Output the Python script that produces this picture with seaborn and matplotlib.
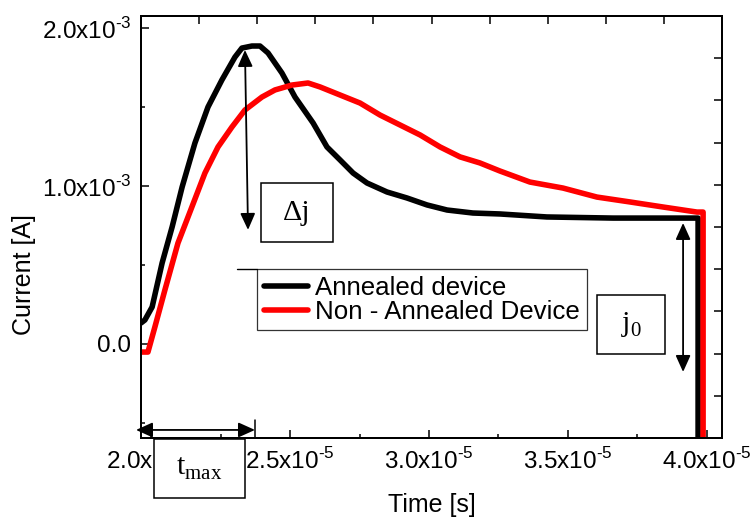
import numpy as np
import pandas as pd
import matplotlib
matplotlib.use("Agg")
import matplotlib.pyplot as plt
import seaborn as sns
from matplotlib.patches import Rectangle
from matplotlib.lines import Line2D

# ---------------- data (time in 1e-5 s, current in 1e-3 A) ----------------
annealed_time = [1.964, 1.978, 2.004, 2.040, 2.076, 2.112, 2.158, 2.205, 2.255, 2.302,
                 2.327, 2.363, 2.392, 2.421, 2.471, 2.518, 2.583, 2.633, 2.680, 2.727,
                 2.777, 2.849, 2.921, 2.993, 3.065, 3.158, 3.255, 3.424, 3.662, 3.903,
                 3.968, 3.968]
annealed_current = [0.133, 0.152, 0.234, 0.513, 0.741, 0.994, 1.272, 1.500, 1.671, 1.816,
                    1.873, 1.886, 1.886, 1.842, 1.715, 1.563, 1.399, 1.247, 1.165, 1.082,
                    1.019, 0.962, 0.924, 0.880, 0.848, 0.829, 0.823, 0.804, 0.797, 0.797,
                    0.797, -0.800]

non_annealed_time = [1.964, 1.989, 2.014, 2.050, 2.097, 2.147, 2.194, 2.241, 2.291, 2.338,
                     2.399, 2.446, 2.507, 2.565, 2.608, 2.680, 2.752, 2.824, 2.896, 2.968,
                     3.040, 3.112, 3.183, 3.255, 3.363, 3.482, 3.604, 3.723, 3.842, 3.964,
                     3.986, 3.986]
non_annealed_current = [-0.051, -0.051, 0.108, 0.342, 0.639, 0.867, 1.082, 1.247, 1.373, 1.481,
                        1.563, 1.608, 1.639, 1.652, 1.627, 1.576, 1.525, 1.449, 1.386, 1.323,
                        1.247, 1.184, 1.146, 1.095, 1.025, 0.987, 0.930, 0.899, 0.867, 0.835,
                        0.835, -0.800]

series_names = ["Annealed device", "Non - Annealed Device"]
series_colors = ["#000000", "#ff0000"]

xticks_major = [2.0e-5, 2.5e-5, 3.0e-5, 3.5e-5, 4.0e-5]
xtick_labels = ["2.0x10$^{\\mathregular{\u20105}}$", "2.5x10$^{\\mathregular{\u20105}}$",
                "3.0x10$^{\\mathregular{\u20105}}$", "3.5x10$^{\\mathregular{\u20105}}$",
                "4.0x10$^{\\mathregular{\u20105}}$"]
xticks_minor = [2.25e-5, 2.75e-5, 3.25e-5, 3.75e-5]
yticks_major = [0.0, 1.0e-3, 2.0e-3]
ytick_labels = ["0.0", "1.0x10$^{\\mathregular{\u20103}}$", "2.0x10$^{\\mathregular{\u20103}}$"]
yticks_minor = [-0.5e-3, 0.5e-3, 1.5e-3]

x_label = "Time [s]"
y_label = "Current [A]"
x_limits = (1.964e-5, 4.054e-5)
y_limits = (-0.595e-3, 2.076e-3)

# ---------------- build table ----------------
df = pd.concat([
    pd.DataFrame({"Time": np.array(annealed_time) * 1e-5,
                  "Current": np.array(annealed_current) * 1e-3,
                  "Device": series_names[0]}),
    pd.DataFrame({"Time": np.array(non_annealed_time) * 1e-5,
                  "Current": np.array(non_annealed_current) * 1e-3,
                  "Device": series_names[1]}),
], ignore_index=True)

# ---------------- style ----------------
sns.set_style("ticks")
plt.rcParams["font.family"] = ["Liberation Sans", "DejaVu Sans"]
plt.rcParams["mathtext.fontset"] = "custom"
plt.rcParams["mathtext.rm"] = "Liberation Sans"
for key in ["text.color", "axes.labelcolor", "xtick.color", "ytick.color", "axes.edgecolor"]:
    plt.rcParams[key] = "black"

W, H = 752, 519
fig = plt.figure(figsize=(W / 100, H / 100), dpi=100)
ax = fig.add_axes([141 / W, 1 - 438 / H, (722 - 141) / W, (438 - 16) / H])

def fx(x):
    return x / W

def fy(y):
    return 1 - y / H

sns.lineplot(data=df, x="Time", y="Current", hue="Device", hue_order=series_names,
             palette=series_colors, estimator=None, sort=False, units="Device",
             lw=4.0, ax=ax, legend=True, zorder=2)

ax.set_xlim(*x_limits)
ax.set_ylim(*y_limits)
ax.set_xticks(xticks_major, xtick_labels)
ax.set_xticks(xticks_minor, minor=True)
ax.set_yticks(yticks_major, ytick_labels)
ax.set_yticks(yticks_minor, minor=True)
ax.tick_params(which="both", direction="in", width=1.1, labelsize=17.5, pad=7,
               colors="black", labelcolor="black")
ax.tick_params(which="major", length=5.5)
ax.tick_params(which="minor", length=3.2)
for s in ax.spines.values():
    s.set_linewidth(1.4)
    s.set_color("black")

ax.set_xlabel(x_label, fontsize=18, color="black")
ax.set_ylabel(y_label, fontsize=18, color="black")
ax.xaxis.set_label_coords(0.5, (438 - 493) / 422)
ax.yaxis.set_label_coords((36 - 141) / 581, (438 - 275) / 422)

# top / right tick-only axes
axt = ax.twiny()
axt.set_xlim(0, 1)
axt.set_xticks(np.linspace(0, 1, 11))
axt.set_xticklabels([])
axt.tick_params(direction="in", length=5.5, width=1.1, colors="black")
axr = ax.twinx()
axr.set_ylim(0, 1)
axr.set_yticks(np.linspace(0, 1, 11))
axr.set_yticklabels([])
axr.tick_params(direction="in", length=5.5, width=1.1, colors="black")
for a in (axt, axr):
    for s in a.spines.values():
        s.set_linewidth(1.4)
        s.set_color("black")

# legend
handles, labels = ax.get_legend_handles_labels()
leg = ax.legend(handles, labels, loc="upper left",
                bbox_to_anchor=(fx(257), fy(269)), bbox_transform=fig.transFigure,
                borderaxespad=0, borderpad=0.26, labelspacing=0.0, handlelength=1.73,
                handletextpad=0.27, fontsize=18.6, frameon=True, fancybox=False)
leg.get_frame().set_edgecolor("black")
leg.get_frame().set_linewidth(0.9)
for t in leg.get_texts():
    t.set_color("black")
for ln in leg.get_lines():
    ln.set_linewidth(4.0)
fig.add_artist(Line2D([fx(237), fx(257)], [fy(268.5), fy(268.5)],
                      transform=fig.transFigure, color="black", lw=1.0))

# annotation boxes
def box(x0, y0, x1, y1, text):
    fig.add_artist(Rectangle((fx(x0), fy(y1)), (x1 - x0) / W, (y1 - y0) / H,
                             transform=fig.transFigure, facecolor="white",
                             edgecolor="black", lw=1.1, zorder=5))
    fig.text(fx((x0 + x1) / 2), fy((y0 + y1) / 2), text, ha="center", va="center",
             family="Liberation Serif", fontsize=21.5, color="black", zorder=6)

box(261, 183, 333, 242, "Δj")
box(597, 295, 665, 354, r"j$_{\mathregular{0}}$")
box(154, 439, 245, 498, r"t$_{\mathregular{max}}$")

arrow_kw = dict(arrowstyle="<|-|>,head_length=1.0,head_width=0.45", color="black",
                lw=1.3, shrinkA=0, shrinkB=0, mutation_scale=10)
ax.annotate("", xy=(2.349e-5, 0.722e-3), xytext=(2.338e-5, 1.861e-3),
            arrowprops=arrow_kw, annotation_clip=False)
ax.annotate("", xy=(3.914e-5, -0.177e-3), xytext=(3.914e-5, 0.766e-3),
            arrowprops=arrow_kw, annotation_clip=False)
ax.annotate("", xy=(2.374e-5, -0.544e-3), xytext=(1.946e-5, -0.544e-3),
            arrowprops=arrow_kw, annotation_clip=False)
ax.plot([2.374e-5, 2.374e-5], [-0.481e-3, -0.595e-3], color="black", lw=1.1, clip_on=False)

fig.savefig("out.png", dpi=100)
